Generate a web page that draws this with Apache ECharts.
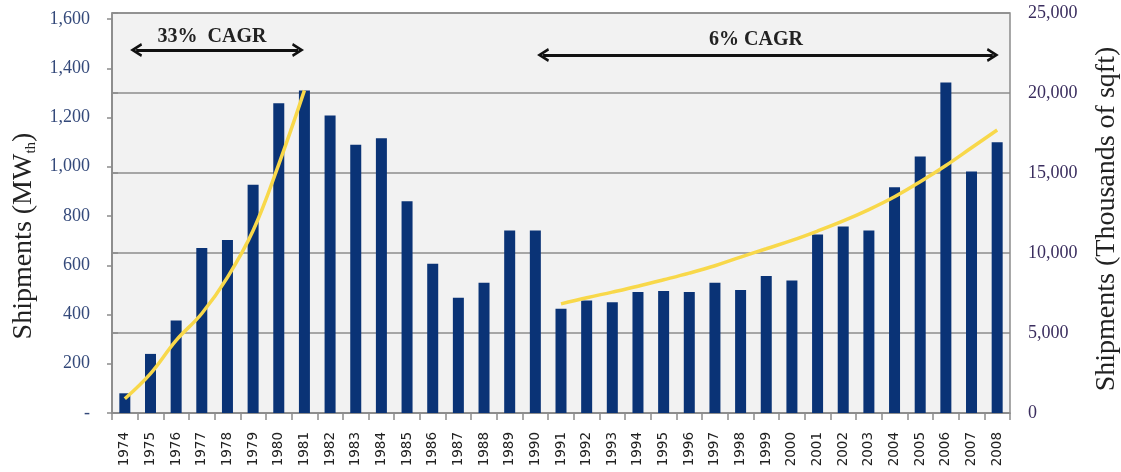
<!DOCTYPE html>
<html>
<head>
<meta charset="utf-8">
<script src="https://cdn.jsdelivr.net/npm/echarts@6/dist/echarts.min.js"></script>
<style>
	html,body{margin:0;padding:0;background:#fff;}
	#main{width:1121px;height:472px;}
</style>
</head>
<body>
<div id="main"></div>
<script>
//年份
var years=["1974","1975","1976","1977","1978","1979","1980","1981","1982","1983","1984","1985","1986","1987","1988","1989","1990",
	"1991","1992","1993","1994","1995","1996","1997","1998","1999","2000","2001","2002","2003","2004","2005","2006","2007","2008"];
//出货量 MWth
var shipments=[80,240,376,670,703,927,1258,1310,1208,1089,1116,860,606,468,529,741,741,
	423,457,450,491,495,491,529,500,556,538,725,757,741,917,1042,1342,981,1099];
//趋势线 1974-1981
var trendEarly=[58,160,295,404,551,741,1010,1310];
//趋势线 1991-2008
var trendLate=[443,468,491,515,541,568,598,633,667,701,739,780,826,878,939,1005,1077,1149];
//左轴
var leftMin=0,leftMax=1600,leftStep=200;
//右轴 千平方英尺
var rightMin=0,rightMax=25000,rightStep=5000;
//标注
var cagrLabels=["33%  CAGR","6% CAGR"];

//补齐null
var early=[],late=[];
for(var i=0;i<years.length;i++){
	early.push(i<trendEarly.length?trendEarly[i]:null);
	late.push(i>=years.length-trendLate.length?trendLate[i-(years.length-trendLate.length)]:null);
}

var gray="#8c8c8c";
var chevron="path://M0,11 L7,0 L14,11 L11.5,12 L7,5 L2.5,12 Z";
function fmt(v){
	return v.toString().replace(/\B(?=(\d{3})+(?!\d))/g,",");
}

var myChart=echarts.init(document.getElementById("main"));
var option={
	animation:false,
	backgroundColor:"#fff",
	grid:[
		//柱子所在
		{left:112,right:111,top:19,bottom:59,outerBoundsMode:"none"},
		//右轴+背景
		{left:112,right:111,top:13,bottom:59,outerBoundsMode:"none",show:true,
			backgroundColor:"#f2f2f2",borderColor:gray,borderWidth:1.5}
	],
	xAxis:[
		{
			type:"category",
			gridIndex:0,
			data:years,
			boundaryGap:true,
			axisLine:{lineStyle:{color:gray,width:1.5}},
			axisTick:{show:true,length:7,lineStyle:{color:gray,width:1.5}},
			axisLabel:{rotate:90,interval:0,margin:19,color:"#222",fontFamily:"DejaVu Sans",fontSize:13.5}
		},
		{//标注用
			type:"value",gridIndex:0,min:1973.5,max:2008.5,show:false
		},
		{
			type:"value",gridIndex:1,min:0,max:1,show:false
		}
	],
	yAxis:[
		{
			type:"value",
			gridIndex:0,
			min:leftMin,max:leftMax,interval:leftStep,
			name:"{a|Shipments (MW}{b|th}{a|)}",
			nameLocation:"middle",
			nameRotate:90,
			nameGap:67,
			nameTextStyle:{
				padding:[0,40,0,0],
				rich:{
					a:{fontFamily:"Liberation Serif",fontSize:28,color:"#222"},
					b:{fontFamily:"Liberation Serif",fontSize:15,color:"#222",verticalAlign:"bottom",padding:[14,0,0,0]}
				}
			},
			axisLine:{show:true,lineStyle:{color:gray,width:1.5}},
			axisTick:{show:true,length:5,lineStyle:{color:gray,width:1.5}},
			splitLine:{show:false},
			axisLabel:{
				margin:22,color:"#34497a",fontFamily:"Liberation Serif",fontSize:18,
				formatter:function(v){return v===0?"-":fmt(v);}
			}
		},
		{
			type:"value",
			gridIndex:1,
			position:"right",
			min:rightMin,max:rightMax,interval:rightStep,
			name:"Shipments (Thousands of sqft)",
			nameLocation:"middle",
			nameRotate:90,
			nameGap:83,
			nameTextStyle:{fontFamily:"Liberation Serif",fontSize:28,color:"#222",padding:[0,12,0,0]},
			axisLine:{show:true,lineStyle:{color:gray,width:1.5}},
			axisTick:{show:true,length:6,lineStyle:{color:gray,width:1.5}},
			splitLine:{show:true,lineStyle:{color:gray,width:1.5}},
			axisLabel:{
				margin:18,color:"#3a2d5e",fontFamily:"Liberation Serif",fontSize:18,
				formatter:function(v){return fmt(v);}
			}
		}
	],
	series:[
		{
			name:"Shipments",
			type:"bar",
			xAxisIndex:0,yAxisIndex:0,
			barWidth:11,
			itemStyle:{color:"#0a3376"},
			data:shipments
		},
		{
			name:"trend1",
			type:"line",
			xAxisIndex:0,yAxisIndex:0,
			smooth:0.4,
			symbol:"none",
			lineStyle:{color:"#f8d84a",width:3.5},
			data:early
		},
		{
			name:"trend2",
			type:"line",
			xAxisIndex:0,yAxisIndex:0,
			smooth:0.4,
			symbol:"none",
			lineStyle:{color:"#f8d84a",width:3.5},
			data:late
		},
		{//CAGR 箭头和文字
			name:"cagr",
			type:"line",
			xAxisIndex:1,yAxisIndex:0,
			data:[],
			markLine:{
				silent:true,
				symbol:[chevron,chevron],
				symbolSize:[14,12],
				lineStyle:{color:"#111",width:3,type:"solid"},
				label:{show:false},
				data:[
					[{coord:[1974.44,1474]},{coord:[1980.75,1474]}],
					[{coord:[1990.30,1454]},{coord:[2007.83,1454]}]
				]
			},
			markPoint:{
				silent:true,
				symbol:"rect",
				symbolSize:1,
				itemStyle:{color:"rgba(0,0,0,0)"},
				label:{show:true,position:"inside",color:"#222",fontFamily:"Liberation Serif",fontWeight:"bold",fontSize:20},
				data:[
					{coord:[1977.4,1528],value:cagrLabels[0],label:{formatter:cagrLabels[0]}},
					{coord:[1998.6,1515],value:cagrLabels[1],label:{formatter:cagrLabels[1]}}
				]
			}
		}
	]
};
myChart.setOption(option);
</script>
</body>
</html>
